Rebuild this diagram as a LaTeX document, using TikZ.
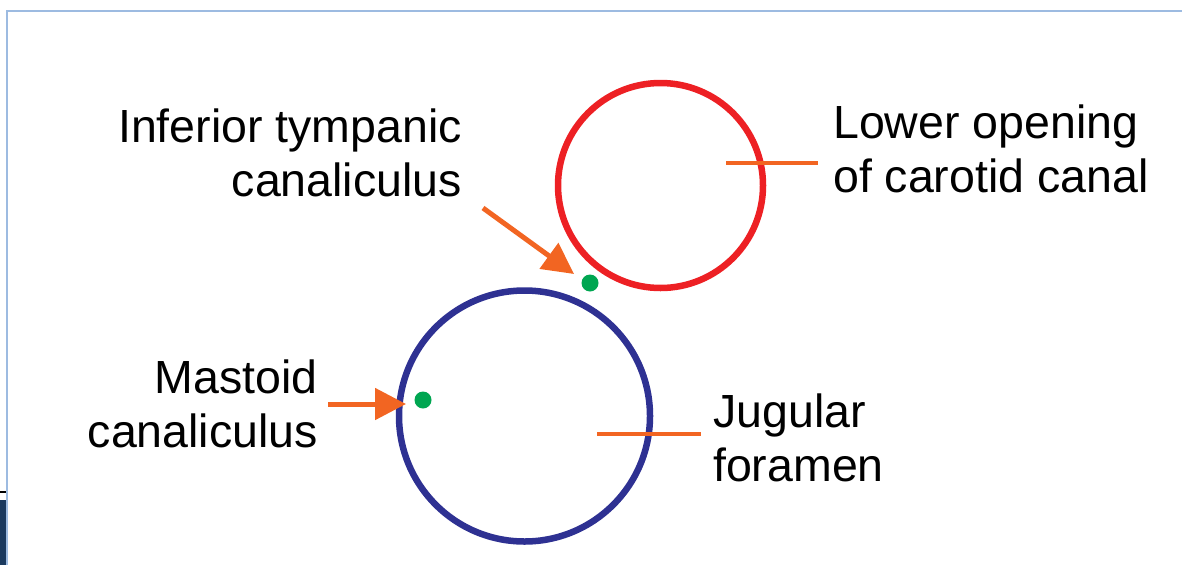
\documentclass[tikz,border=0pt]{standalone}
\usepackage{fontspec}
\setmainfont{Liberation Sans}
\usetikzlibrary{arrows.meta, positioning}
\definecolor{carotidred}{RGB}{237, 32, 36}
\definecolor{jugularblue}{RGB}{46, 49, 146}
\definecolor{canalgreen}{RGB}{0, 166, 81}
\definecolor{pointorange}{RGB}{242, 101, 34}
\definecolor{frameblue}{RGB}{157, 187, 225}
\definecolor{darknavy}{RGB}{27, 58, 95}

\tikzset{
    label text/.style={font=\fontsize{46.5}{54}\selectfont, inner sep=0pt},
    pointer/.style={draw=pointorange, line width=5pt, -{Triangle[length=31pt, width=31pt]}},
    marker/.style={draw=pointorange, line width=4.5pt},
    opening/.style={circle, draw, line width=6.5pt, inner sep=0pt},
    canal dot/.style={circle, fill=canalgreen, minimum size=17pt, inner sep=0pt}
}

\begin{document}
\begin{tikzpicture}[x=1pt, y=-1pt]
    \useasboundingbox (0, 0) rectangle (1182, 565);

    % Slide frame
    \draw[frameblue, line width=2pt] (7, 565) -- (7, 11) -- (1182, 11);
    \fill[darknavy] (0, 500) rectangle (6, 565);
    \draw[black, line width=2pt] (0, 492) -- (6, 492);

    % Openings
    \node[opening, draw=carotidred, minimum size=205pt] (carotid) at (660.5, 185.5) {};
    \node[opening, draw=jugularblue, minimum size=251pt] (jugular) at (524.5, 416) {};

    % Canaliculi
    \node[canal dot] (tympdot) at (590, 283) {};
    \node[canal dot] (mastdot) at (423, 400) {};

    % Labels (base = last line)
    \node[label text, align=right, anchor=base east] (tymplabel) at (462, 196) {Inferior tympanic\\canaliculus};
    \node[label text, align=left, anchor=base west] (carotidlabel) at (833, 192) {Lower opening\\of carotid canal};
    \node[label text, align=right, anchor=base east] (mastlabel) at (318, 447) {Mastoid\\canaliculus};
    \node[label text, align=left, anchor=base west] (jugularlabel) at (713, 481) {Jugular\\foramen};

    % Pointers
    \coordinate (tympstart) at (483, 208);
    \coordinate (tymptip) at (574, 274);
    \draw[pointer] (tympstart) -- (tymptip);
    \coordinate (maststart) at (328, 404);
    \coordinate (masttip) at (406, 404);
    \draw[pointer] (maststart) -- (masttip);

    % Markers across the rims
    \coordinate (carotidin) at (726, 163);
    \coordinate (carotidout) at (818, 163);
    \draw[marker] (carotidin) -- (carotidout);
    \coordinate (jugularin) at (597, 434);
    \coordinate (jugularout) at (701, 434);
    \draw[marker] (jugularin) -- (jugularout);
\end{tikzpicture}
\end{document}
